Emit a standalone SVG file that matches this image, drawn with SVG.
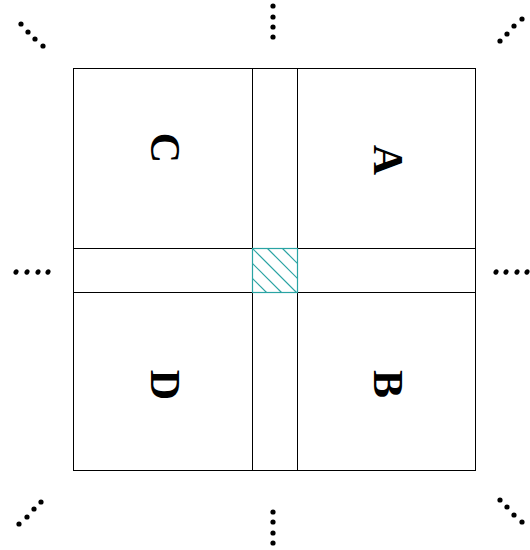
<svg xmlns="http://www.w3.org/2000/svg" width="530" height="550" viewBox="0 0 530 550">
<style>
.ln{fill:none;stroke:#000;stroke-width:1}
.lab{font-family:"Liberation Serif","Times New Roman",serif;font-weight:bold;font-size:42px;fill:#000;text-anchor:middle}
.dot{fill:#000}
.h{stroke:#2aa3a3;stroke-width:1.2;fill:none}
</style>
<defs>
<clipPath id="cp"><rect x="252.5" y="248.5" width="45" height="44"/></clipPath>
</defs>
<rect width="530" height="550" fill="#fff"/>
<g id="connectors">
<rect class="ln" x="73.5" y="68.5" width="402" height="402"/>
<line class="ln" x1="252.5" y1="68.5" x2="252.5" y2="470.5"/>
<line class="ln" x1="297.5" y1="68.5" x2="297.5" y2="470.5"/>
<line class="ln" x1="73.5" y1="248.5" x2="475.5" y2="248.5"/>
<line class="ln" x1="73.5" y1="292.5" x2="475.5" y2="292.5"/>
</g>
<g id="center">
<g clip-path="url(#cp)">
<line class="h" x1="222" y1="233" x2="282" y2="293"/>
<line class="h" x1="237" y1="233" x2="297" y2="293"/>
<line class="h" x1="252" y1="233" x2="312" y2="293"/>
<line class="h" x1="267" y1="233" x2="327" y2="293"/>
<line class="h" x1="282" y1="233" x2="342" y2="293"/>
<line class="h" x1="207" y1="233" x2="267" y2="293"/>
</g>
<rect x="252.5" y="248.5" width="45" height="44" fill="none" stroke="#2aa3a3" stroke-width="1.2"/>
</g>
<g id="nodeC"><text class="lab" x="165" y="162" transform="rotate(90 165 148)">C</text></g>
<g id="nodeA"><text class="lab" x="388" y="174" transform="rotate(90 388 160)">A</text></g>
<g id="nodeD"><text class="lab" x="165" y="399" transform="rotate(90 165 385)">D</text></g>
<g id="nodeB"><text class="lab" x="388" y="398" transform="rotate(90 388 384)">B</text></g>
<g id="dots">
<circle class="dot" cx="273" cy="6" r="2.6"/><circle class="dot" cx="273" cy="17" r="2.6"/><circle class="dot" cx="273" cy="27" r="2.6"/><circle class="dot" cx="273" cy="37" r="2.6"/>
<circle class="dot" cx="273" cy="512" r="2.6"/><circle class="dot" cx="273" cy="522" r="2.6"/><circle class="dot" cx="273" cy="533" r="2.6"/><circle class="dot" cx="273" cy="543" r="2.6"/>
<g transform="translate(0 272)"><ellipse class="dot" cx="16" cy="0" rx="2.4" ry="2.8" transform="rotate(30 16 0)"/><ellipse class="dot" cx="27" cy="0" rx="2.4" ry="2.8" transform="rotate(30 27 0)"/><ellipse class="dot" cx="38" cy="0" rx="2.4" ry="2.8" transform="rotate(30 38 0)"/><ellipse class="dot" cx="48" cy="0" rx="2.4" ry="2.8" transform="rotate(30 48 0)"/></g>
<g transform="translate(0 272)"><ellipse class="dot" cx="496" cy="0" rx="2.4" ry="2.8" transform="rotate(30 496 0)"/><ellipse class="dot" cx="506" cy="0" rx="2.4" ry="2.8" transform="rotate(30 506 0)"/><ellipse class="dot" cx="517" cy="0" rx="2.4" ry="2.8" transform="rotate(30 517 0)"/><ellipse class="dot" cx="527" cy="0" rx="2.4" ry="2.8" transform="rotate(30 527 0)"/></g>
<circle class="dot" cx="21" cy="24" r="2.6"/><circle class="dot" cx="28" cy="32" r="2.6"/><circle class="dot" cx="35" cy="39" r="2.6"/><circle class="dot" cx="43" cy="46" r="2.6"/>
<circle class="dot" cx="500" cy="41" r="2.6"/><circle class="dot" cx="507" cy="34" r="2.6"/><circle class="dot" cx="514" cy="26" r="2.6"/><circle class="dot" cx="522" cy="19" r="2.6"/>
<circle class="dot" cx="19" cy="524" r="2.6"/><circle class="dot" cx="27" cy="517" r="2.6"/><circle class="dot" cx="34" cy="509" r="2.6"/><circle class="dot" cx="41" cy="502" r="2.6"/>
<circle class="dot" cx="500" cy="500" r="2.6"/><circle class="dot" cx="507" cy="507" r="2.6"/><circle class="dot" cx="514" cy="515" r="2.6"/><circle class="dot" cx="522" cy="522" r="2.6"/>
</g>
</svg>
